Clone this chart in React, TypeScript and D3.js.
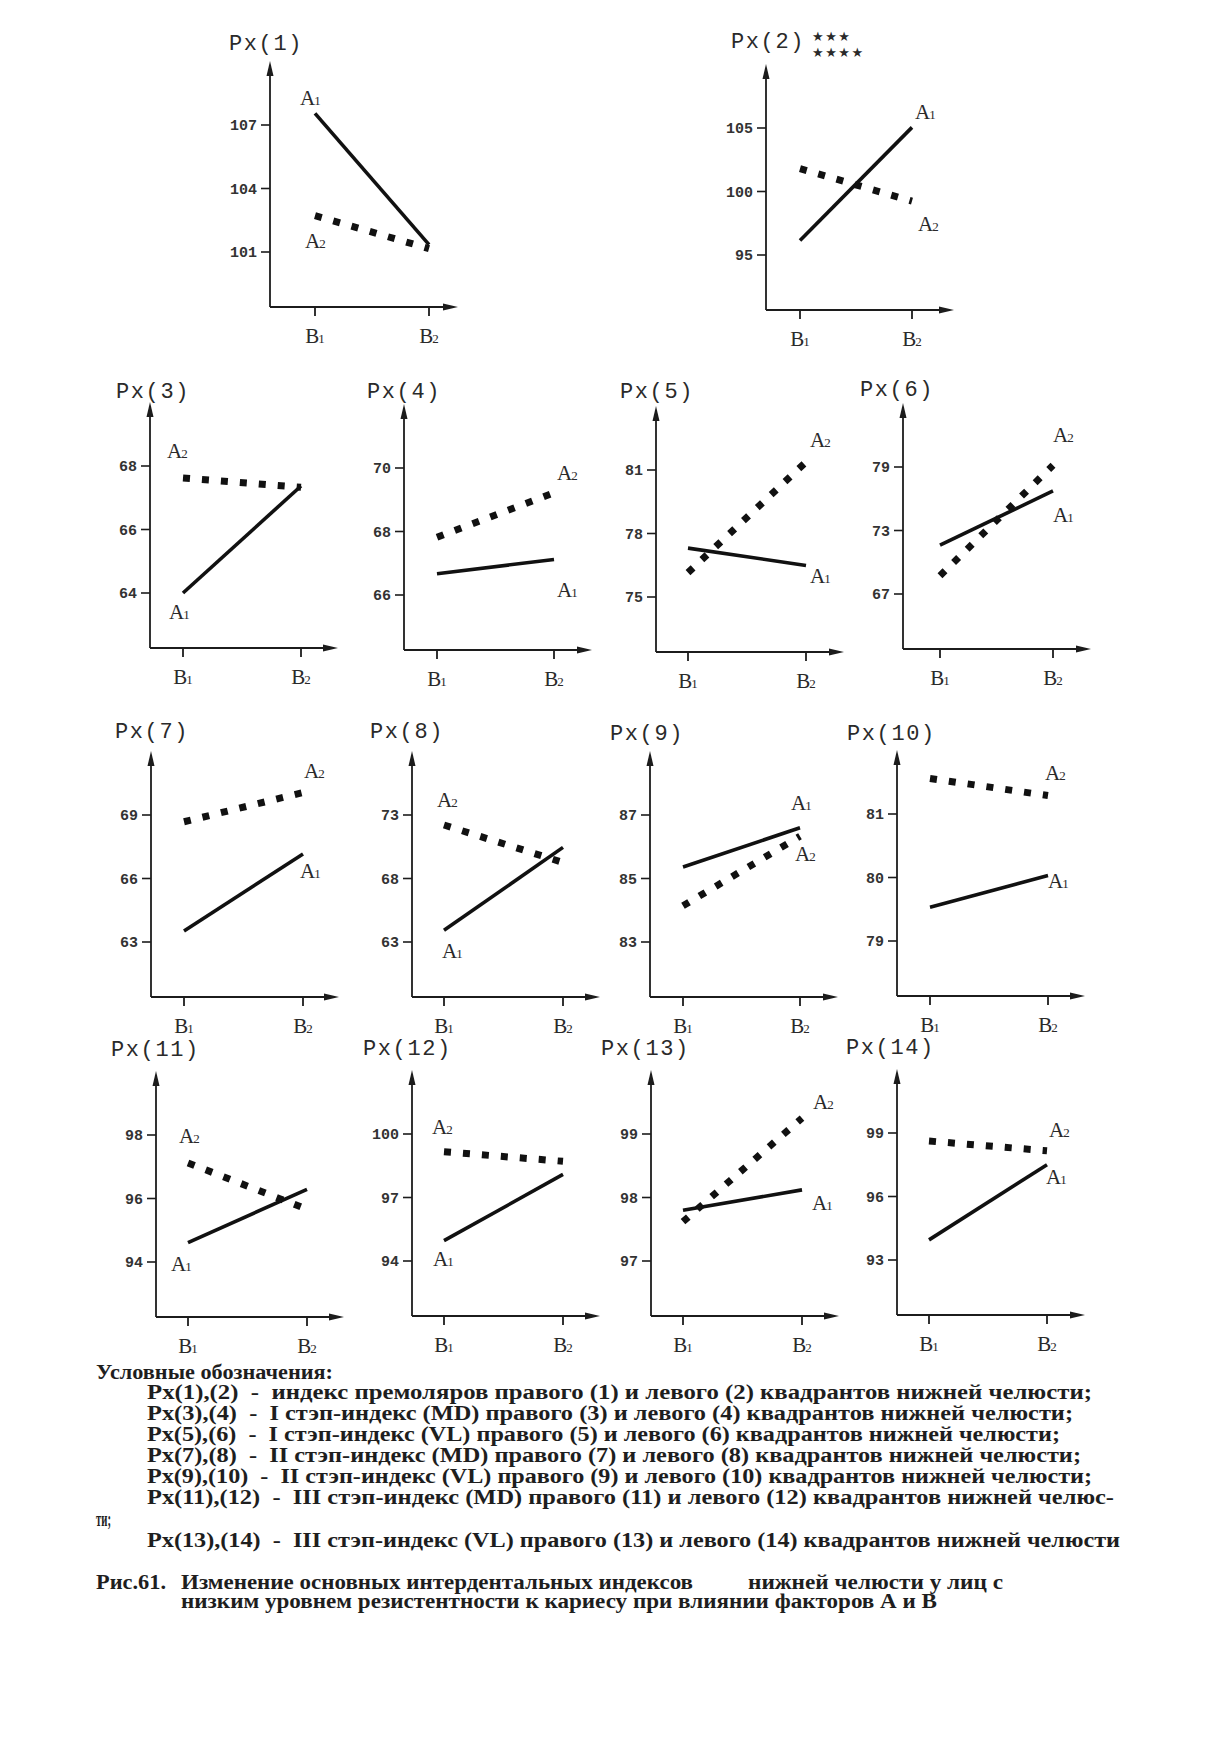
import React from 'react';
import * as d3 from 'd3';

// ---------- data ----------
const panelNames = ['Px(1)', 'Px(2)', 'Px(3)', 'Px(4)', 'Px(5)', 'Px(6)', 'Px(7)', 'Px(8)', 'Px(9)', 'Px(10)', 'Px(11)', 'Px(12)', 'Px(13)', 'Px(14)'];
const categories = ['B1', 'B2'];
const seriesNames = ['A1', 'A2'];
const tickValues = [
  [101, 104, 107], [95, 100, 105], [64, 66, 68], [66, 68, 70], [75, 78, 81], [67, 73, 79],
  [63, 66, 69], [63, 68, 73], [83, 85, 87], [79, 80, 81], [94, 96, 98], [94, 97, 100], [97, 98, 99], [93, 96, 99],
];
const seriesA1 = [
  [107.55, 101.35], [96.15, 105.05], [64.0, 67.37], [66.67, 67.12], [77.31, 76.49], [71.62, 76.74],
  [63.52, 67.16], [63.92, 70.45], [85.36, 86.6], [79.53, 80.03], [94.61, 96.29], [94.96, 98.09], [97.8, 98.12], [93.95, 97.5],
];
const seriesA2 = [
  [102.72, 101.16], [101.8, 99.24], [67.62, 67.33], [67.82, 69.22], [76.15, 81.38], [68.73, 79.16],
  [68.68, 70.06], [72.21, 69.26], [84.14, 86.33], [81.56, 81.29], [97.12, 95.66], [99.16, 98.71], [97.62, 99.25], [98.62, 98.16],
];
const significance = ['***', '****'];
const legendTitle = 'Условные обозначения:';
const legendLines = [
  'Px(1),(2)  -  индекс премоляров правого (1) и левого (2) квадрантов нижней челюсти;',
  'Px(3),(4)  -  I стэп-индекс (MD) правого (3) и левого (4) квадрантов нижней челюсти;',
  'Px(5),(6)  -  I стэп-индекс (VL) правого (5) и левого (6) квадрантов нижней челюсти;',
  'Px(7),(8)  -  II стэп-индекс (MD) правого (7) и левого (8) квадрантов нижней челюсти;',
  'Px(9),(10)  -  II стэп-индекс (VL) правого (9) и левого (10) квадрантов нижней челюсти;',
  'Px(11),(12)  -  III стэп-индекс (MD) правого (11) и левого (12) квадрантов нижней челюс-',
  'ти;',
  'Px(13),(14)  -  III стэп-индекс (VL) правого (13) и левого (14) квадрантов нижней челюсти',
];
const captionParts = [
  'Рис.61.',
  'Изменение основных интердентальных индексов',
  'нижней челюсти у лиц с',
  'низким уровнем резистентности к кариесу при влиянии факторов А и В',
];

// ---------- layout (positions only) ----------
// ax: y-axis x, by: x-axis y, b1/b2: category offsets, tx/ty: title, lab: [end, dx, dy] for A1, A2
const layout = [
  { ax: 270, by: 307, b1: 45, b2: 159, tx: 229, ty: 50, lab: [[0, -15, -8], [0, -10, 32]] },
  { ax: 766, by: 310, b1: 34, b2: 146, tx: 731, ty: 48, lab: [[1, 3, -8], [1, 6, 30]] },
  { ax: 150, by: 648, b1: 33, b2: 151, tx: 116, ty: 398, lab: [[0, -14, 26], [0, -16, -20]] },
  { ax: 404, by: 650, b1: 33, b2: 150, tx: 367, ty: 398, lab: [[1, 3, 38], [1, 3, -13]] },
  { ax: 656, by: 652, b1: 32, b2: 150, tx: 620, ty: 398, lab: [[1, 4, 18], [1, 4, -15]] },
  { ax: 903, by: 649, b1: 37, b2: 150, tx: 860, ty: 396, lab: [[1, 0, 31], [1, 0, -23]] },
  { ax: 151, by: 997, b1: 33, b2: 152, tx: 115, ty: 738, lab: [[1, -3, 24], [1, 1, -15]] },
  { ax: 412, by: 997, b1: 32, b2: 151, tx: 370, ty: 738, lab: [[0, -2, 28], [0, -7, -18]] },
  { ax: 650, by: 997, b1: 33, b2: 150, tx: 610, ty: 740, lab: [[1, -9, -18], [1, -5, 25]] },
  { ax: 897, by: 996, b1: 33, b2: 151, tx: 847, ty: 740, lab: [[1, 0, 12], [1, -3, -16]] },
  { ax: 156, by: 1317, b1: 32, b2: 151, tx: 111, ty: 1056, lab: [[0, -17, 28], [0, -9, -20]] },
  { ax: 412, by: 1316, b1: 32, b2: 151, tx: 363, ty: 1055, lab: [[0, -11, 25], [0, -12, -18]] },
  { ax: 651, by: 1316, b1: 32, b2: 151, tx: 601, ty: 1055, lab: [[1, 10, 20], [1, 11, -9]] },
  { ax: 897, by: 1315, b1: 32, b2: 150, tx: 846, ty: 1054, lab: [[1, -1, 19], [1, 2, -14]] },
];

const INK = '#1c1c1c';
const MONO = '"Liberation Mono", "DejaVu Sans Mono", monospace';
const SERIF = '"Liberation Serif", "DejaVu Serif", serif';

function SubLabel({ x, y, text, anchor }: { x: number; y: number; text: string; anchor: string }) {
  return (
    <text x={x} y={y} textAnchor={anchor} fontFamily={SERIF} fontSize={21} fill="#2a2a2a">
      {text[0]}
      <tspan fontSize={13} dx={-1}>{text.slice(1)}</tspan>
    </text>
  );
}

function Panel({ i }: { i: number }) {
  const L = layout[i];
  const ticks = tickValues[i];
  const x = d3.scalePoint<string>().domain(categories).range([L.ax + L.b1, L.ax + L.b2]);
  const y = d3.scaleLinear().domain([ticks[0], ticks[2]]).range([L.by - 55, L.by - 182]);
  const top = L.by - 246;
  const right = L.ax + 188;
  const line = d3.line<number>().x((_, k) => x(categories[k]) as number).y((v) => y(v));
  const series = [seriesA1[i], seriesA2[i]];
  return (
    <g>
      <text x={L.tx} y={L.ty} fontFamily={MONO} fontSize={22} letterSpacing={1.6} fill="#2a2a2a">{panelNames[i]}</text>
      {/* axes */}
      <line x1={L.ax} y1={top + 10} x2={L.ax} y2={L.by} stroke={INK} strokeWidth={1.8} />
      <line x1={L.ax} y1={L.by} x2={right - 10} y2={L.by} stroke={INK} strokeWidth={1.8} />
      <path d={`M${L.ax},${top} L${L.ax - 3.5},${top + 15} L${L.ax + 3.5},${top + 15} Z`} fill={INK} />
      <path d={`M${right},${L.by} L${right - 15},${L.by - 3.5} L${right - 15},${L.by + 3.5} Z`} fill={INK} />
      {ticks.map((t) => (
        <g key={t}>
          <line x1={L.ax - 9} x2={L.ax} y1={y(t)} y2={y(t)} stroke={INK} strokeWidth={1.6} />
          <text x={L.ax - 13} y={y(t)} dy="0.35em" textAnchor="end" fontFamily={MONO} fontWeight="bold" fontSize={15} fill="#333">{t}</text>
        </g>
      ))}
      {categories.map((c) => (
        <g key={c}>
          <line x1={x(c)} x2={x(c)} y1={L.by} y2={L.by + 9} stroke={INK} strokeWidth={1.8} />
          <SubLabel x={x(c) as number} y={L.by + 36} text={c} anchor="middle" />
        </g>
      ))}
      {/* series */}
      <path d={line(series[0]) as string} fill="none" stroke="#111" strokeWidth={3.6} />
      <path d={line(series[1]) as string} fill="none" stroke="#111" strokeWidth={7} strokeDasharray="7 12" />
      {series.map((s, k) => {
        const [end, dx, dy] = L.lab[k];
        const px = (x(categories[end]) as number) + dx;
        const py = y(s[end]) + dy;
        return <SubLabel key={k} x={px} y={py} text={seriesNames[k]} anchor="start" />;
      })}
      {i === 1 && significance.map((s, k) => (
        <text key={k} x={812} y={41 + k * 16} fontFamily='"DejaVu Sans", sans-serif' fontSize={13} letterSpacing={1.5} fill="#2a2a2a">
          {s.split('').map(() => '★').join('')}
        </text>
      ))}
    </g>
  );
}

export default function App() {
  const legendY = [1399, 1420, 1441, 1462, 1483, 1504, 1526, 1547];
  const legendEnd = [1092, 1073, 1060, 1081, 1092, 1114, 111, 1120];
  const legendX = [147, 147, 147, 147, 147, 147, 96, 147];
  const capX = [96, 181, 748, 181];
  const capEnd = [166, 693, 1003, 937];
  const capY = [1589, 1589, 1589, 1608];
  return (
    <svg width={1214} height={1738} style={{ position: 'absolute', left: 0, top: 0, background: '#fff' }}>
      <rect width={1214} height={1738} fill="#fff" />
      {panelNames.map((_, i) => <Panel key={i} i={i} />)}
      <g fontFamily={SERIF} fontWeight="bold" fontSize={20.5} fill="#1e1e1e">
        <text x={96} y={1379} textLength={237} lengthAdjust="spacingAndGlyphs">{legendTitle}</text>
        {legendLines.map((t, k) => (
          <text key={k} x={legendX[k]} y={legendY[k]} textLength={legendEnd[k] - legendX[k]} lengthAdjust="spacingAndGlyphs" xmlSpace="preserve">{t}</text>
        ))}
        {captionParts.map((t, k) => (
          <text key={'c' + k} x={capX[k]} y={capY[k]} textLength={capEnd[k] - capX[k]} lengthAdjust="spacingAndGlyphs">{t}</text>
        ))}
      </g>
    </svg>
  );
}
